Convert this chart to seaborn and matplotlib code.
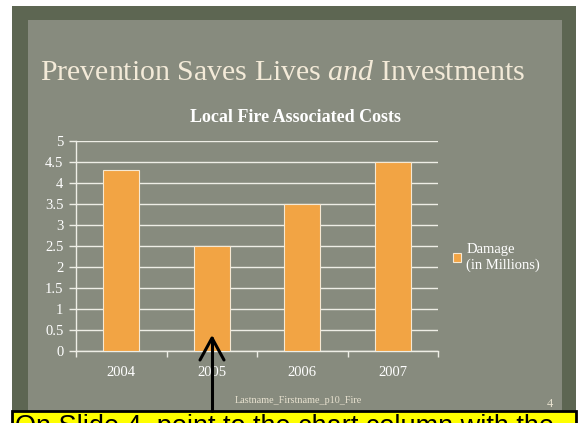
import pandas as pd
import numpy as np
import seaborn as sns
import matplotlib.pyplot as plt
from matplotlib.patches import Rectangle

# chart data
years = ['2004', '2005', '2006', '2007']
damage = [4.3, 2.5, 3.5, 4.5]
series_name = 'Damage\n(in Millions)'
y_ticks = [0, 0.5, 1, 1.5, 2, 2.5, 3, 3.5, 4, 4.5, 5]

title = 'Prevention Saves Lives $\\it{and}$ Investments'
chart_title = 'Local Fire Associated Costs'
footer = 'Lastname_Firstname_p10_Fire'
slide_no = '4'
callout = 'On Slide 4, point to the chart column with the'

df = pd.DataFrame({'Year': years, 'Damage': damage})

sns.set_style('white')
plt.rcParams['font.family'] = ['Liberation Serif', 'DejaVu Serif']
plt.rcParams['mathtext.fontset'] = 'custom'
plt.rcParams['mathtext.it'] = 'Liberation Serif:italic'
plt.rcParams['mathtext.rm'] = 'Liberation Serif'

W, H = 578, 423
fig = plt.figure(figsize=(W / 100, H / 100), dpi=100)
fig.patch.set_facecolor('white')

def fx(x):
    return x / W

def fy(y):
    return 1 - y / H

# slide background: dark border + lighter paper
fig.add_artist(Rectangle((fx(12), fy(423)), fx(576) - fx(12), fy(6) - fy(423),
                         transform=fig.transFigure, facecolor='#5d6652', edgecolor='none', zorder=0))
fig.add_artist(Rectangle((fx(28), fy(423)), fx(562) - fx(28), fy(20) - fy(423),
                         transform=fig.transFigure, facecolor='#878b7e', edgecolor='none', zorder=0))

fig.text(fx(283), fy(73), title, color='#f3ead8', fontsize=21.5, ha='center', va='center')
fig.text(fx(296), fy(117), chart_title, color='white', fontsize=13, fontweight='bold',
         ha='center', va='center')

ax = fig.add_axes([fx(76), fy(351), fx(438) - fx(76), fy(141) - fy(351)])
ax.set_facecolor('none')
sns.barplot(data=df, x='Year', y='Damage', color='#f2a444', width=0.4, saturation=1,
            edgecolor='#f6e8d2', linewidth=0.8, label=series_name, ax=ax, zorder=3)
ax.set_xlim(-0.5, 3.5)
ax.set_yticks(y_ticks, [f'{v:g}' for v in y_ticks])
ax.set_ylim(0, 5)
ax.grid(axis='y', color='#eeeee6', linewidth=1, zorder=1)
ax.set_axisbelow(True)
for s in ['top', 'right']:
    ax.spines[s].set_visible(False)
for s in ['left', 'bottom']:
    ax.spines[s].set_color('#eeeee6')
    ax.spines[s].set_linewidth(1)
ax.set_xlabel('')
ax.set_ylabel('')
ax.tick_params(axis='y', colors='#eeeee6', labelcolor='white', labelsize=10.5, length=5,
               width=1, direction='out', left=True, pad=4)
ax.tick_params(axis='x', which='major', length=0, labelcolor='white', labelsize=10.5, pad=11)
ax.set_xticks(np.arange(-0.5, 3.6, 1), minor=True)
ax.tick_params(axis='x', which='minor', length=4, width=1, colors='#eeeee6', bottom=True)

leg = ax.legend(loc='upper left', bbox_to_anchor=(fx(446), fy(236)), bbox_transform=fig.transFigure,
                frameon=False, fontsize=10.5, labelcolor='white', handlelength=0.55, handleheight=0.55,
                handletextpad=0.35, borderpad=0)

fig.text(fx(298), fy(400), footer, color='#e8e2d0', fontsize=7.3, ha='center', va='center')
fig.text(fx(550), fy(404), slide_no, color='#e8e2d0', fontsize=9, ha='center', va='center')

# callout box and arrow
fig.add_artist(Rectangle((fx(12), fy(430)), fx(576) - fx(12), fy(411) - fy(430),
                         transform=fig.transFigure, facecolor='#ffff00', edgecolor='black',
                         linewidth=2, zorder=5))
fig.text(fx(15), fy(414), callout, color='black', fontsize=19.5, family='Liberation Sans',
         ha='left', va='top', zorder=6)
fig.add_artist(plt.Line2D([fx(212), fx(212)], [fy(338), fy(411)], transform=fig.transFigure,
                          color='black', linewidth=2.2, zorder=6))
fig.add_artist(plt.Line2D([fx(200), fx(212), fx(224)], [fy(360), fy(338), fy(360)],
                          transform=fig.transFigure, color='black', linewidth=2.2, zorder=6))

fig.savefig('out.png', dpi=100)
